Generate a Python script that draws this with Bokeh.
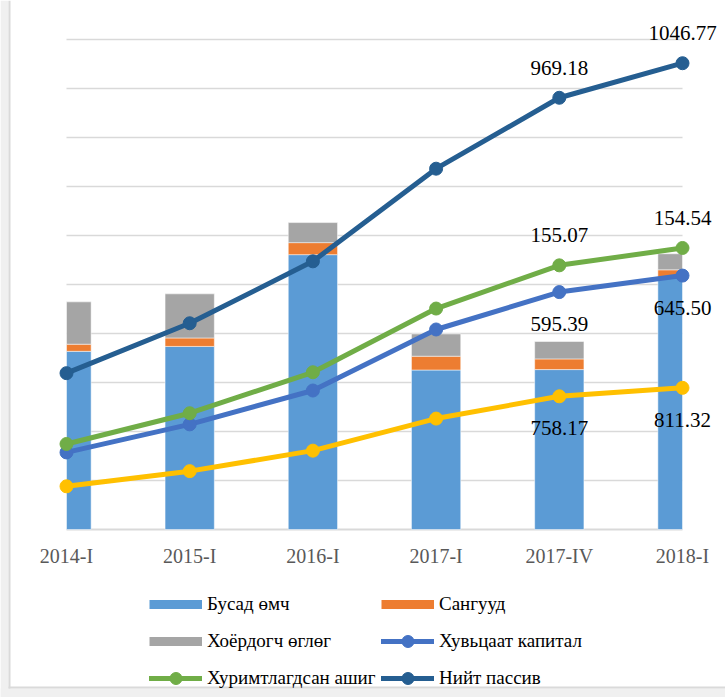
from bokeh.plotting import figure
from bokeh.models import (ColumnDataSource, Range1d, LabelSet, Legend, LegendItem,
                          BoxAnnotation)
from bokeh.core.properties import value
from bokeh.embed import file_html
from bokeh.resources import INLINE

# ---------------- data ----------------
categories = ["2014-I", "2015-I", "2016-I", "2017-I", "2017-IV", "2018-I"]

busad_omch = [400, 411, 617, 358, 359, 566]        # Бусад өмч
sanguud = [16, 19, 27, 31, 24, 17]                 # Сангууд
khoyordogch_oglog = [95, 99, 45, 50, 39, 36]       # Хоёрдогч өглөг

khuvitsaat_kapital = [173, 236, 312, 449, 533, 570]      # Хувьцаат капитал
khurimtlagdsan_ashig = [192, 261, 353, 496, 593, 632]    # Хуримтлагдсан ашиг
niit_passiv = [351, 463, 602, 810, 969.18, 1046.77]      # Нийт пассив
unlabeled_series = [97, 131, 177, 249, 299, 318]         # yellow line (no legend)

data_label_texts = ["1046.77", "969.18", "155.07", "154.54",
                    "595.39", "645.50", "758.17", "811.32"]
data_label_cat = [5, 4, 4, 5, 4, 5, 4, 5]
data_label_series = ["niit", "niit", "khurim", "khurim",
                     "khuv", "khuv", "yellow", "yellow"]

grid_values = [110 * i for i in range(0, 11)]

# ---------------- styling ----------------
FONT = "Liberation Serif"
C_BUSAD = "#5b9bd5"
C_SANG = "#ed7d31"
C_KHOYOR = "#a5a5a5"
C_KHUV = "#4472c4"
C_KHURIM = "#70ad47"
C_NIIT = "#255e91"
C_YELLOW = "#ffc000"

W, H = 725, 697
PX_PER_CAT = 123.2          # horizontal pixels per category step
UNITS_PER_PX = 1100 / 490   # vertical value units per pixel
LEFT_PX, RIGHT_PX = 66, 682
BASE_PX = 529

xs = list(range(len(categories)))
x0, x1 = xs[0], xs[-1]

p = figure(width=W, height=H, output_backend="svg", toolbar_location=None,
           x_range=Range1d(x0 - LEFT_PX / PX_PER_CAT, x1 + (W - RIGHT_PX) / PX_PER_CAT),
           y_range=Range1d(-(H - BASE_PX) * UNITS_PER_PX, BASE_PX * UNITS_PER_PX),
           x_axis_location=None, y_axis_location=None,
           min_border=0)
p.outline_line_color = None
p.grid.visible = False

# page-like frame decoration
for kw in [dict(left=0, right=8, top=0, bottom=H, fill_color="#f0f0f0"),
           dict(left=0, right=W, top=0, bottom=9, fill_color="#f0f0f0"),
           dict(left=8, right=10, top=9, bottom=H, fill_color="#dadada"),
           dict(left=8, right=W, top=9, bottom=11, fill_color="#dadada")]:
    p.add_layout(BoxAnnotation(left_units="screen", right_units="screen",
                               top_units="screen", bottom_units="screen",
                               line_color=None, fill_alpha=1, level="underlay", **kw))

# gridlines (value-axis grid) spanning the category extent
p.segment(x0=[x0] * len(grid_values), x1=[x1] * len(grid_values),
          y0=grid_values, y1=grid_values,
          line_color="#d9d9d9", line_width=[2] + [1.6] * (len(grid_values) - 1))

# stacked bars (clipped to the category extent like the original)
bw = 0.4
left = [max(x - bw / 2, x0) for x in xs]
right = [min(x + bw / 2, x1) for x in xs]
b1 = busad_omch
b2 = [a + b for a, b in zip(busad_omch, sanguud)]
b3 = [a + b for a, b in zip(b2, khoyordogch_oglog)]
p.quad(left=left, right=right, bottom=[0] * len(xs), top=b1, fill_color=C_BUSAD,
       line_color="#ffffff", line_width=0.5)
p.quad(left=left, right=right, bottom=b1, top=b2, fill_color=C_SANG,
       line_color="#ffffff", line_width=0.5)
p.quad(left=left, right=right, bottom=b2, top=b3, fill_color=C_KHOYOR,
       line_color="#ffffff", line_width=0.5)

# lines
def add_line(vals, color):
    src = ColumnDataSource(dict(x=xs, y=vals))
    l = p.line("x", "y", source=src, line_color=color, line_width=5,
               line_join="round", line_cap="round")
    s = p.scatter("x", "y", source=src, size=13, fill_color=color, line_color=color)
    return l, s

add_line(unlabeled_series, C_YELLOW)
l_khuv, s_khuv = add_line(khuvitsaat_kapital, C_KHUV)
l_khurim, s_khurim = add_line(khurimtlagdsan_ashig, C_KHURIM)
l_niit, s_niit = add_line(niit_passiv, C_NIIT)

# category (axis) labels
cat_src = ColumnDataSource(dict(x=xs, y=[0] * len(xs), t=categories))
p.add_layout(LabelSet(x="x", y="y", text="t", y_offset=-26, source=cat_src,
                      text_font=value(FONT), text_font_size=value("20px"),
                      text_color="#595959",
                      text_align="center", text_baseline="middle"))

# data labels
series_map = {"niit": niit_passiv, "khurim": khurimtlagdsan_ashig,
              "khuv": khuvitsaat_kapital, "yellow": unlabeled_series}
offset_map = {"niit": 30, "khurim": 30, "khuv": -32, "yellow": -32}
lab_src = ColumnDataSource(dict(
    x=data_label_cat,
    y=[series_map[s][i] for s, i in zip(data_label_series, data_label_cat)],
    t=data_label_texts,
    off=[offset_map[s] for s in data_label_series]))
p.add_layout(LabelSet(x="x", y="y", text="t", y_offset="off", source=lab_src,
                      text_font=value(FONT), text_font_size=value("21px"),
                      text_color="#000000",
                      text_align="center", text_baseline="middle"))

# legend swatches for the bar series (invisible, no drawable data)
nan = float("nan")
d_busad = p.line([nan], [nan], line_color=C_BUSAD, line_width=9)
d_sang = p.line([nan], [nan], line_color=C_SANG, line_width=9)
d_khoyor = p.line([nan], [nan], line_color=C_KHOYOR, line_width=9)

legend_style = dict(padding=0, margin=0, spacing=7, glyph_width=53, glyph_height=30,
                    label_height=30, label_standoff=5, label_text_font=FONT,
                    label_text_font_size="19px", label_text_color="#000000",
                    border_line_color=None, background_fill_alpha=0)

legend_left = Legend(items=[
    LegendItem(label="Бусад өмч", renderers=[d_busad]),
    LegendItem(label="Хоёрдогч өглөг", renderers=[d_khoyor]),
    LegendItem(label="Хуримтлагдсан ашиг", renderers=[l_khurim, s_khurim]),
], location=(149, 4), **legend_style)
legend_right = Legend(items=[
    LegendItem(label="Сангууд", renderers=[d_sang]),
    LegendItem(label="Хувьцаат капитал", renderers=[l_khuv, s_khuv]),
    LegendItem(label="Нийт пассив", renderers=[l_niit, s_niit]),
], location=(381, 4), **legend_style)
p.add_layout(legend_left, "center")
p.add_layout(legend_right, "center")

open("out.html", "w").write(file_html(p, INLINE))
